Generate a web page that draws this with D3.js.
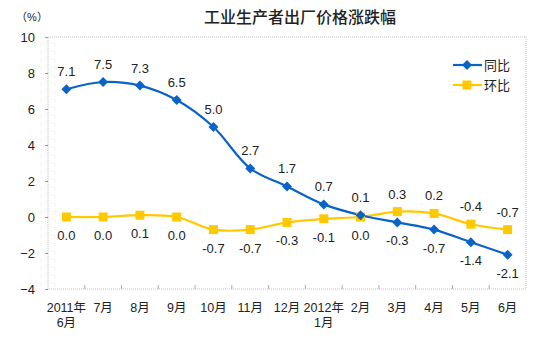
<!DOCTYPE html>
<html><head><meta charset="utf-8">
<script src="https://cdn.jsdelivr.net/npm/d3@7"></script>
<style>body{margin:0;background:#fff}svg{display:block}</style>
</head><body><svg id="c" width="550" height="349"></svg>
<script>
const categories = ["2011年\n6月","7月","8月","9月","10月","11月","12月","2012年\n1月","2月","3月","4月","5月","6月"];
const yoy = [7.1,7.5,7.3,6.5,5.0,2.7,1.7,0.7,0.1,-0.3,-0.7,-1.4,-2.1];
const mom = [0.0,0.0,0.1,0.0,-0.7,-0.7,-0.3,-0.1,0.0,0.3,0.2,-0.4,-0.7];
const yTicks = [-4,-2,0,2,4,6,8,10];
const seriesNames = ["同比","环比"];
const title = "工业生产者出厂价格涨跌幅";

const svg = d3.select("#c");
const L=48,R=526,T=37,B=289;
const x = d3.scaleBand().domain(d3.range(categories.length)).range([L,R]);
const y = d3.scaleLinear().domain([-4,10]).range([B,T]);
const font = "'Liberation Sans', Arial, 'Noto Sans CJK SC', sans-serif";
const blue="#0a64c8", yel="#ffc800";

svg.append("text").attr("x",300).attr("y",23).attr("text-anchor","middle")
  .attr("font-family","'Noto Sans CJK SC', sans-serif").attr("font-size",16).attr("font-weight",500).attr("fill","#222").text(title);
svg.append("text").attr("x",32).attr("y",21).attr("text-anchor","middle")
  .attr("font-family",font).attr("font-size",11).attr("fill","#222").text("（%）");

// plot border
svg.append("rect").attr("x",L).attr("y",T).attr("width",R-L).attr("height",B-T)
  .attr("fill","none").attr("stroke","#c0c0c0").attr("stroke-dasharray","1,1");

// y axis
const ya = svg.append("g").attr("transform",`translate(${L},0)`)
  .call(d3.axisLeft(y).tickValues(yTicks).tickSize(3).tickPadding(10));
ya.select(".domain").remove();
ya.selectAll("line").attr("stroke","#999");
ya.selectAll("text").attr("font-family",font).attr("font-size",13).attr("fill","#222");

// x axis ticks (boundaries)
const bounds = d3.range(1,categories.length);
svg.append("g").selectAll("line").data(bounds).join("line")
  .attr("x1",d=>L+d*x.bandwidth()).attr("x2",d=>L+d*x.bandwidth())
  .attr("y1",B).attr("y2",B-4).attr("stroke","#aaa");
const xl = svg.append("g").selectAll("text").data(categories).join("text")
  .attr("text-anchor","middle").attr("font-family",font).attr("font-size",12.5).attr("fill","#222");
xl.each(function(d,i){
  const parts=d.split("\n");
  const t=d3.select(this);
  parts.forEach((p,j)=>t.append("tspan").attr("x",x(i)+x.bandwidth()/2).attr("y",312+j*15).text(p));
});

const cx = i=>x(i)+x.bandwidth()/2;
const line = d3.line().x((d,i)=>cx(i)).y(d=>y(d)).curve(d3.curveCatmullRom.alpha(0.5));

svg.append("path").datum(mom).attr("d",line).attr("fill","none").attr("stroke",yel).attr("stroke-width",2.2);
svg.append("path").datum(yoy).attr("d",line).attr("fill","none").attr("stroke",blue).attr("stroke-width",2.2);

svg.append("g").selectAll("rect").data(mom).join("rect")
  .attr("x",(d,i)=>cx(i)-4.5).attr("y",d=>y(d)-4.5).attr("width",9).attr("height",9).attr("fill",yel);
const diamond = "M0,-5L5,0L0,5L-5,0Z";
svg.append("g").selectAll("path").data(yoy).join("path")
  .attr("d",diamond).attr("transform",(d,i)=>`translate(${cx(i)},${y(d)})`).attr("fill",blue);

// labels
const lab = (data,aboveFn)=>svg.append("g").selectAll("text").data(data).join("text")
  .attr("x",(d,i)=>cx(i)).attr("y",(d,i)=>aboveFn(i)? y(d)-13 : y(d)+23)
  .attr("text-anchor","middle").attr("font-family",font).attr("font-size",13).attr("fill","#222")
  .text(d=>d.toFixed(1));
lab(yoy,i=>i<=8);
lab(mom,i=>i>8);

// legend
const lg=[{n:seriesNames[0],c:blue,t:"d",yy:65},{n:seriesNames[1],c:yel,t:"s",yy:85}];
lg.forEach(o=>{
  svg.append("line").attr("x1",453).attr("x2",482).attr("y1",o.yy).attr("y2",o.yy).attr("stroke",o.c).attr("stroke-width",2.2);
  if(o.t==="d") svg.append("path").attr("d",diamond).attr("transform",`translate(467,${o.yy})`).attr("fill",o.c);
  else svg.append("rect").attr("x",462.5).attr("y",o.yy-4.5).attr("width",9).attr("height",9).attr("fill",o.c);
  svg.append("text").attr("x",484).attr("y",o.yy+5).attr("font-family","'Noto Sans CJK SC', sans-serif").attr("font-size",13).attr("fill","#222").text(o.n);
});
</script></body></html>
